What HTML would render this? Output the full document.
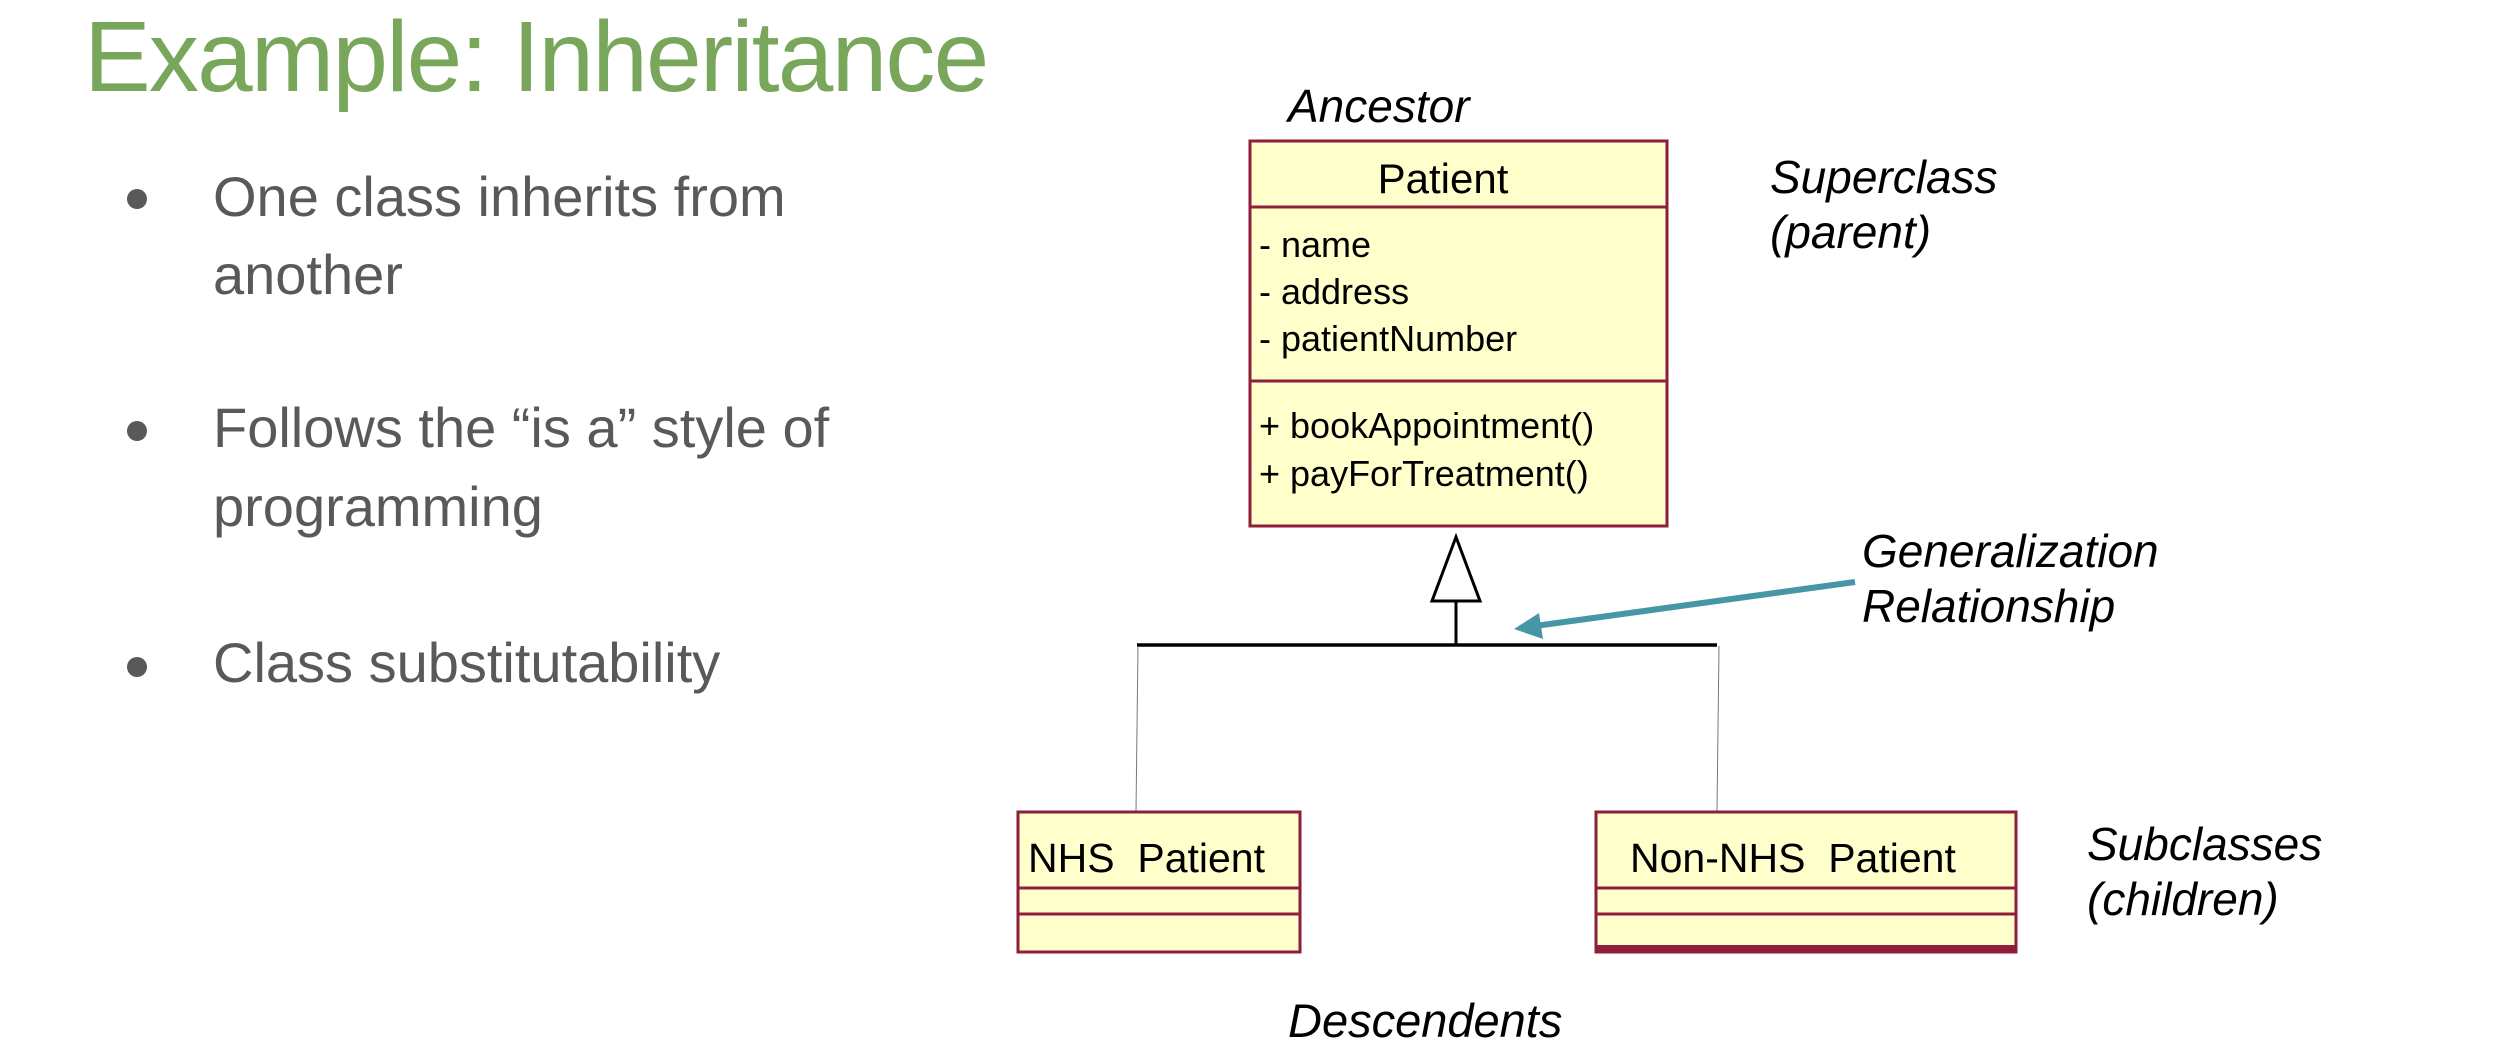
<!DOCTYPE html>
<html><head><meta charset="utf-8"><style>
html,body{margin:0;padding:0;background:#fff;}
svg{display:block;}
</style></head><body>
<svg width="2494" height="1053" viewBox="0 0 2494 1053" xmlns="http://www.w3.org/2000/svg" font-family="Liberation Sans, Arial, sans-serif">
<rect width="2494" height="1053" fill="#fff"/>
<!-- Title -->
<text x="84" y="91" font-size="100" fill="#78a65a" letter-spacing="-1.8">Example:  Inheritance</text>
<!-- Bullets -->
<g fill="#595959" font-size="56">
<circle cx="137" cy="199" r="10"/>
<text x="213" y="216">One class inherits from</text>
<text x="213" y="294">another</text>
<circle cx="137" cy="431" r="10"/>
<text x="213" y="447">Follows the “is a” style of</text>
<text x="213" y="526">programming</text>
<circle cx="137" cy="667" r="10"/>
<text x="213" y="682">Class substitutability</text>
</g>
<!-- Patient box -->
<rect x="1250" y="141" width="417" height="385" fill="#ffffcc" stroke="#8e1e3b" stroke-width="3"/>
<line x1="1250" y1="207" x2="1667" y2="207" stroke="#8e1e3b" stroke-width="3"/>
<line x1="1250" y1="381" x2="1667" y2="381" stroke="#8e1e3b" stroke-width="3"/>
<text x="1443" y="193" font-size="42" text-anchor="middle">Patient</text>
<g font-size="36">
<text x="1259" y="257">- name</text>
<text x="1259" y="304">- address</text>
<text x="1259" y="351">- patientNumber</text>
<text x="1259" y="438">+ bookAppointment()</text>
<text x="1259" y="486">+ payForTreatment()</text>
</g>
<text x="1288" y="122" font-size="46" font-style="italic">Ancestor</text>
<!-- Generalization -->
<polygon points="1456,537 1432,601 1480,601" fill="#fff" stroke="#000" stroke-width="3"/>
<line x1="1456" y1="601" x2="1456" y2="645" stroke="#000" stroke-width="3"/>
<line x1="1137" y1="645" x2="1717" y2="645" stroke="#000" stroke-width="3.5"/>
<line x1="1138" y1="646" x2="1136" y2="811" stroke="#777" stroke-width="1"/>
<line x1="1719" y1="646" x2="1717" y2="811" stroke="#777" stroke-width="1"/>
<!-- Teal arrow -->
<line x1="1855" y1="582" x2="1535" y2="626" stroke="#4796a6" stroke-width="6"/>
<polygon points="1514,629 1539,613 1543,639" fill="#4796a6"/>
<!-- NHS box -->
<rect x="1018" y="812" width="282" height="140" fill="#ffffcc" stroke="#8e1e3b" stroke-width="3"/>
<line x1="1018" y1="888" x2="1300" y2="888" stroke="#8e1e3b" stroke-width="3"/>
<line x1="1018" y1="914" x2="1300" y2="914" stroke="#8e1e3b" stroke-width="3"/>
<text x="1028" y="872" font-size="41" xml:space="preserve">NHS  Patient</text>
<!-- Non-NHS box -->
<rect x="1596" y="812" width="420" height="140" fill="#ffffcc" stroke="#8e1e3b" stroke-width="3"/>
<line x1="1596" y1="888" x2="2016" y2="888" stroke="#8e1e3b" stroke-width="3"/>
<line x1="1596" y1="914" x2="2016" y2="914" stroke="#8e1e3b" stroke-width="3"/>
<rect x="1596" y="945" width="420" height="8" fill="#8e1e3b"/>
<text x="1630" y="872" font-size="41" xml:space="preserve">Non-NHS  Patient</text>
<!-- Labels -->
<g font-size="46" font-style="italic">
<text x="1770" y="193">Superclass</text>
<text x="1770" y="248">(parent)</text>
<text x="1862" y="567">Generalization</text>
<text x="1862" y="622">Relationship</text>
<text x="2087" y="860">Subclasses</text>
<text x="2087" y="915">(children)</text>
<text x="1288" y="1037" font-size="47">Descendents</text>
</g>
</svg>
</body></html>
